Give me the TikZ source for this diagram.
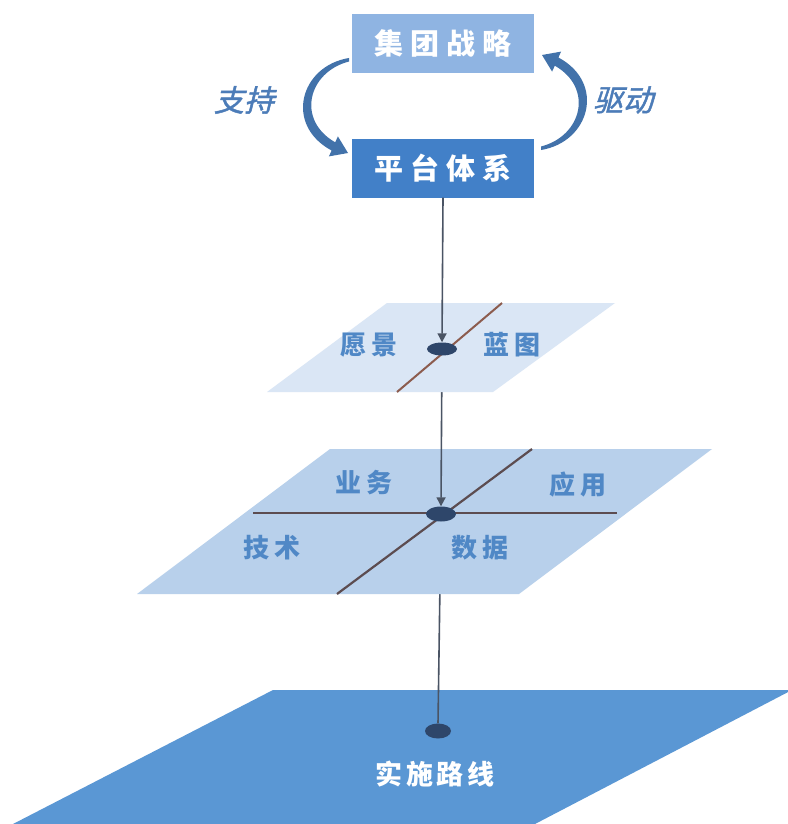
\documentclass[tikz,border=0pt]{standalone}
\usepackage{fontspec}
\newfontfamily\cjk{Noto Sans CJK SC}
\newfontfamily\cjkit{Noto Sans CJK SC}[FakeSlant=0.25,FakeBold=1.5]
\usetikzlibrary{arrows.meta,shapes.geometric}
\definecolor{boxa}{RGB}{143,180,226}
\definecolor{boxb}{RGB}{66,128,200}
\definecolor{arrc}{RGB}{66,114,170}
\definecolor{lblblue}{RGB}{76,124,184}
\definecolor{ptblue}{RGB}{80,136,198}
\definecolor{pa}{RGB}{218,230,245}
\definecolor{pb}{RGB}{184,208,235}
\definecolor{pc}{RGB}{90,151,212}
\definecolor{connc}{RGB}{74,84,100}
\definecolor{dotc}{RGB}{46,70,106}
\definecolor{linea}{RGB}{140,92,78}
\definecolor{lineb}{RGB}{92,76,80}
\begin{document}
\begin{tikzpicture}[x=1pt,y=-1pt,
  box/.style={minimum width=182pt,minimum height=59pt,inner sep=0pt,text=white,font=\cjk\bfseries\fontsize{29}{30}\selectfont},
  lbl/.style={text=lblblue,font=\cjkit\fontsize{30}{32}\selectfont},
  ptext/.style={text=ptblue,font=\cjk\bfseries\fontsize{26}{28}\selectfont},
  wtext/.style={text=white,font=\cjk\bfseries\fontsize{27}{29}\selectfont},
  conn/.style={draw=connc,line width=1.6pt},
  tipconn/.style={conn,-{Triangle[length=9pt,width=9pt]}},
  dot/.style={ellipse,fill=dotc,inner sep=0pt,minimum width=30pt,minimum height=13pt},
  crescent/.style={fill=arrc}]
\useasboundingbox (0,0) rectangle (787,824);
\fill[white] (0,0) rectangle (787,824);

% bottom plane
\fill[pc] (273,690) -- (792,690) -- (535,824) -- (13,824) -- cycle;
\node[dot,minimum width=26pt,minimum height=15pt] (d3) at (438,731) {};
\node[wtext] (t9) at (435,774) {实\hspace{4pt}施\hspace{4pt}路\hspace{4pt}线};

% middle plane
\node[dot,minimum width=30pt,minimum height=15pt] (d2) at (441,514) {};
\draw[conn] (d2.center) -- (d3.north);
\fill[pb] (330,449) -- (712,449) -- (519,594) -- (137,594) -- cycle;
\draw[lineb,line width=2.2pt] (253,513) -- (617,513);
\draw[lineb,line width=2.2pt] (337,594) -- (532,449);
\node[ptext] (t5) at (364,483) {业\hspace{6pt}务};
\node[ptext] (t6) at (578,485) {应\hspace{6pt}用};
\node[ptext] (t7) at (272,548) {技\hspace{6pt}术};
\node[ptext] (t8) at (480,548) {数\hspace{6pt}据};

% top plane
\node[dot] (d1) at (442,349) {};
\draw[tipconn] (d1.center) -- (d2.north);
\node[dot,minimum width=30pt,minimum height=15pt] at (441,514) {};
\fill[pa] (387,303) -- (615,303) -- (493,392) -- (267,392) -- cycle;
\draw[linea,line width=2pt] (397,392) -- (502,303);
\node[ptext] (t3) at (369,345) {愿\hspace{6pt}景};
\node[ptext] (t4) at (512,345) {蓝\hspace{6pt}图};

% boxes
\node[box,fill=boxa] (strat) at (443,43.5) {集\hspace{7pt}团\hspace{7pt}战\hspace{7pt}略};
\node[box,fill=boxb] (plat) at (443,168) {平\hspace{7pt}台\hspace{7pt}体\hspace{7pt}系};
\draw[tipconn] (plat.south) -- (d1.north);
\node[dot] at (442,349) {};

% curved arrows
\fill[crescent] (349,58) .. controls (300,66) and (284,125) .. (331.6,150.5)
  -- (328.9,156.4) -- (348,153) -- (337.9,136.4) -- (335.2,142.3)
  .. controls (296,120) and (308,72) .. (349,61.5) -- cycle;
\begin{scope}[rotate around={180:(445,104)}]
\fill[crescent] (349,58) .. controls (300,66) and (284,125) .. (331.6,150.5)
  -- (328.9,156.4) -- (348,153) -- (337.9,136.4) -- (335.2,142.3)
  .. controls (296,120) and (308,72) .. (349,61.5) -- cycle;
\end{scope}
\node[lbl] (l1) at (244,100) {支持};
\node[lbl] (l2) at (623,100) {驱动};
\end{tikzpicture}
\end{document}
